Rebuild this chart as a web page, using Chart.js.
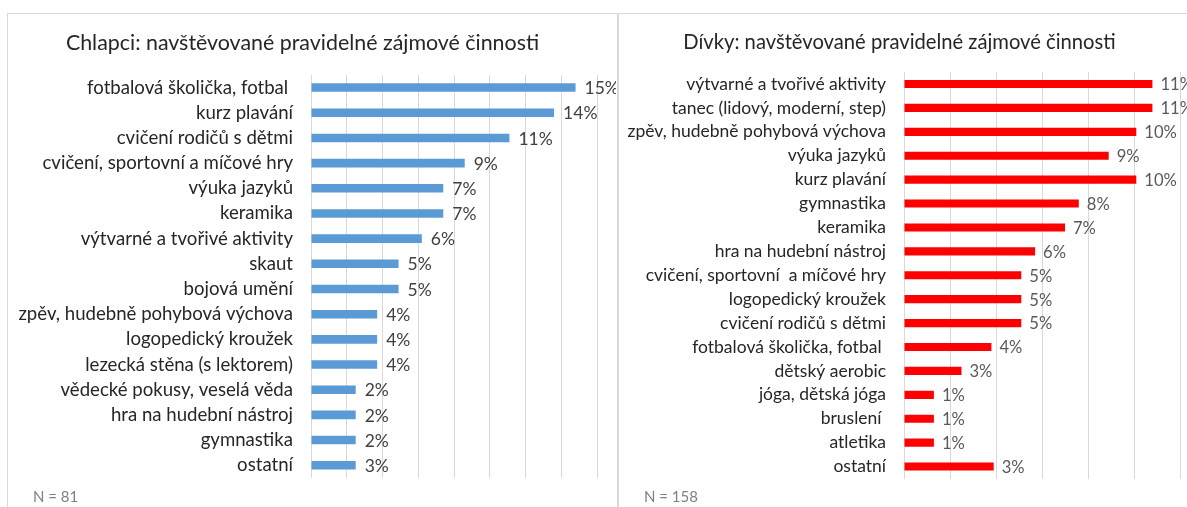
<!DOCTYPE html>
<html>
<head>
<meta charset="utf-8">
<script src="https://cdn.jsdelivr.net/npm/chart.js@4/dist/chart.umd.min.js"></script>
<style>
    body { margin: 0; background: #fff; }
    #page { position: relative; width: 1187px; height: 507px; overflow: hidden; background: #fff; font-family: Lato, sans-serif; }
    .panel { position: absolute; top: 13px; height: 520px; border: 1px solid #d9d9d9; box-sizing: border-box; }
    canvas { position: absolute; }
    .note { position: absolute; top: 487px; font-size: 15px; color: #808080; }
</style>
</head>
<body>
<div id="page">
    <div class="panel" style="left: 7px; width: 611px;"></div>
    <div class="panel" style="left: 618px; width: 600px;"></div>
    <canvas id="boysChart" width="608" height="493" style="left: 8px; top: 14px;"></canvas>
    <canvas id="girlsChart" width="576" height="493" style="left: 619px; top: 14px;"></canvas>
    <div class="note" style="left: 33px;">N = 81</div>
    <div class="note" style="left: 644px;">N = 158</div>
</div>
<script>
let boysCategories = [
    "fotbalová školička, fotbal ", "kurz plavání", "cvičení rodičů s dětmi",
    "cvičení, sportovní a míčové hry", "výuka jazyků", "keramika",
    "výtvarné a tvořivé aktivity", "skaut", "bojová umění",
    "zpěv, hudebně pohybová výchova", "logopedický kroužek", "lezecká stěna (s lektorem)",
    "vědecké pokusy, veselá věda", "hra na hudební nástroj", "gymnastika", "ostatní"
]
let boysValues = [14.8, 13.6, 11.1, 8.6, 7.4, 7.4, 6.2, 4.9, 4.9, 3.7, 3.7, 3.7, 2.5, 2.5, 2.5, 2.5]
let boysLabels = ["15%", "14%", "11%", "9%", "7%", "7%", "6%", "5%", "5%", "4%", "4%", "4%", "2%", "2%", "2%", "3%"]

let girlsCategories = [
    "výtvarné a tvořivé aktivity", "tanec (lidový, moderní, step)", "zpěv, hudebně pohybová výchova",
    "výuka jazyků", "kurz plavání", "gymnastika", "keramika", "hra na hudební nástroj",
    "cvičení, sportovní  a míčové hry", "logopedický kroužek", "cvičení rodičů s dětmi",
    "fotbalová školička, fotbal ", "dětský aerobic", "jóga, dětská jóga", "bruslení ", "atletika", "ostatní"
]
let girlsValues = [10.8, 10.8, 10.1, 8.9, 10.1, 7.6, 7.0, 5.7, 5.1, 5.1, 5.1, 3.8, 2.5, 1.3, 1.3, 1.3, 3.9]
let girlsLabels = ["11%", "11%", "10%", "9%", "10%", "8%", "7%", "6%", "5%", "5%", "5%", "4%", "3%", "1%", "1%", "1%", "3%"]

let font = "Lato, sans-serif"

// value labels at the end of each bar
let valueLabels = {
    id: "valueLabels",
    afterDatasetsDraw(chart, args, opts) {
        let ctx = chart.ctx
        let meta = chart.getDatasetMeta(0)
        ctx.save()
        ctx.font = opts.size + "px " + font
        ctx.fillStyle = opts.color
        ctx.textBaseline = "middle"
        ctx.textAlign = "left"
        meta.data.forEach(function (bar, i) {
            ctx.fillText(opts.texts[i], bar.x + opts.gap, bar.y + 1)
        })
        ctx.restore()
    }
}

function makeChart(id, o) {
    return new Chart(document.getElementById(id), {
        type: "bar",
        data: {
            labels: o.categories,
            datasets: [{
                data: o.values,
                backgroundColor: o.color,
                categoryPercentage: 0.68,
                barPercentage: 0.5
            }]
        },
        options: {
            indexAxis: "y",
            responsive: false,
            animation: false,
            layout: { padding: { left: 0, right: o.padRight, top: 0, bottom: 12 } },
            scales: {
                x: {
                    min: 0,
                    max: o.max,
                    ticks: { display: false, stepSize: 2 },
                    grid: { color: "#d9d9d9", drawTicks: false },
                    border: { display: false }
                },
                y: {
                    grid: { display: false, drawTicks: false },
                    border: { display: false },
                    ticks: { color: "#262626", font: { family: font, size: o.fontSize }, padding: 18 },
                    afterFit: function (scale) { scale.width = o.axisWidth }
                }
            },
            plugins: {
                legend: { display: false },
                tooltip: { enabled: false },
                title: {
                    display: true,
                    text: o.title,
                    color: "#262626",
                    font: { family: font, size: o.titleSize, weight: "normal" },
                    padding: o.titlePadding
                },
                valueLabels: { texts: o.labels, color: o.labelColor, size: o.valueSize, gap: o.gap }
            }
        },
        plugins: [valueLabels]
    })
}

makeChart("boysChart", {
    title: "Chlapci: navštěvované pravidelné zájmové činnosti",
    categories: boysCategories,
    values: boysValues,
    labels: boysLabels,
    color: "#5b9bd5",
    labelColor: "#404040",
    fontSize: 18.6,
    valueSize: 17.5,
    titleSize: 21.4,
    gap: 9,
    max: 16,
    axisWidth: 303,
    padRight: 19,
    titlePadding: { top: 16.7, bottom: 18.6 }
})

makeChart("girlsChart", {
    title: "Dívky: navštěvované pravidelné zájmové činnosti",
    categories: girlsCategories,
    values: girlsValues,
    labels: girlsLabels,
    color: "#ff0000",
    labelColor: "#595959",
    fontSize: 17.5,
    valueSize: 16.6,
    titleSize: 20.2,
    gap: 8,
    max: 12,
    axisWidth: 285,
    padRight: 15,
    titlePadding: { top: 15.9, bottom: 17.9 }
})
</script>
</body>
</html>
